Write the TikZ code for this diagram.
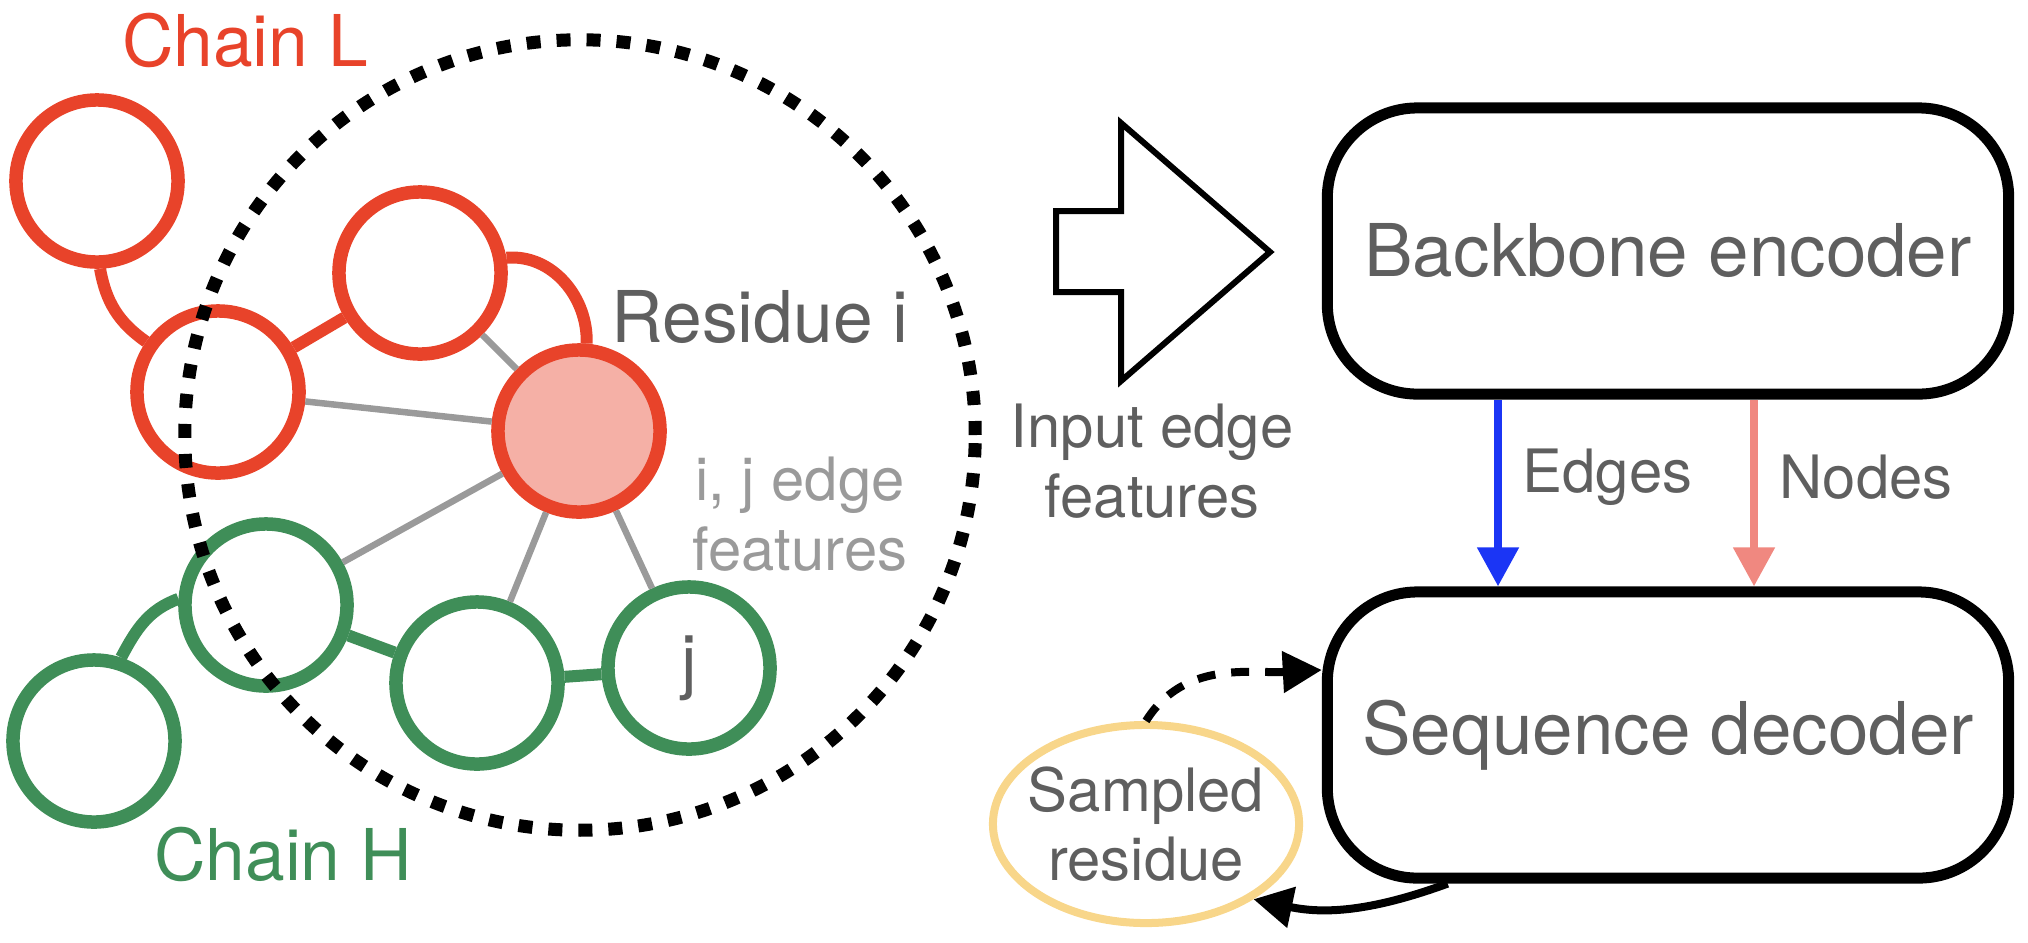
\documentclass[tikz,border=0pt]{standalone}
\usepackage{fontspec}
\setmainfont{TeX Gyre Heros}
\usetikzlibrary{shapes.geometric, arrows.meta}
\definecolor{chainl}{HTML}{E8432A}
\definecolor{chainh}{HTML}{3F8E58}
\definecolor{resfill}{HTML}{F5B0A6}
\definecolor{txtgrey}{HTML}{5F5F5F}
\definecolor{edgegrey}{HTML}{9A9A9A}
\definecolor{edgeblue}{HTML}{1B35F5}
\definecolor{nodesalmon}{HTML}{F08880}
\definecolor{sampleyellow}{HTML}{F8D68A}
\tikzstyle{lres} = [circle, draw=chainl, line width=0.135cm, minimum size=1.62cm, inner sep=0pt]
\tikzstyle{hres} = [circle, draw=chainh, line width=0.135cm, minimum size=1.62cm, inner sep=0pt, text=txtgrey, font=\fontsize{20}{24}\selectfont]
\tikzstyle{llink} = [draw=chainl, line width=0.12cm]
\tikzstyle{hlink} = [draw=chainh, line width=0.12cm]
\tikzstyle{glink} = [draw=edgegrey, line width=0.065cm]
\tikzstyle{module} = [rectangle, rounded corners=0.9cm, draw, line width=0.11cm, minimum width=6.81cm, minimum height=2.86cm, text=txtgrey, font=\fontsize{20.7}{25}\selectfont]
\tikzstyle{lbltext} = [text=txtgrey, align=center, font=\fontsize{17}{19.8}\selectfont]
\tikzstyle{flow} = [line width=0.08cm, -{Triangle[length=0.39cm, width=0.4cm]}]

\begin{document}
\begin{tikzpicture}[x=0.01cm, y=-0.01cm]
            \useasboundingbox (0,0) rectangle (2028,942);
            % chain L
            \node [lres] at (97,181) (l1) {};
            \node [lres] at (218,392) (l2) {};
            \node [lres] at (420,273) (l3) {};
            \node [lres, fill=resfill] at (579,431) (ri) {};
            % chain H
            \node [hres] at (94,741) (h2) {};
            \node [hres] at (266,605) (h1) {};
            \node [hres] at (477,683) (h3) {};
            \node [hres] at (689,668) (rj) {j};
            % neighbourhood
            \coordinate (nb) at (580,435);
            \draw [line width=0.13cm, dash pattern=on 0.14cm off 0.16cm] (nb) circle [radius=3.95cm];
            % edges
            \draw [glink] (l3) -- (ri);
            \draw [glink] (l2) -- (ri);
            \draw [glink] (h1) -- (ri);
            \draw [glink] (h3) -- (ri);
            \draw [glink] (rj) -- (ri);
            \draw [llink] (l1.-88) to[out=-80, in=145] (l2.145);
            \draw [llink] (l2) -- (l3);
            \draw [llink] (l3.10) to[out=5, in=88] (ri.85);
            \draw [hlink] (h2.72) to[out=62, in=200] (h1.176);
            \draw [hlink] (h1) -- (h3);
            \draw [hlink] (h3) -- (rj);
            % texts
            \node [text=chainl, font=\fontsize{20.3}{24}\selectfont] at (245,40) (chl) {Chain L};
            \node [text=chainh, font=\fontsize{20.3}{24}\selectfont] at (283,854) (chh) {Chain H};
            \node [text=txtgrey, font=\fontsize{20.3}{24}\selectfont] at (760,317) (rlab) {Residue i};
            \node [lbltext, text=edgegrey] at (800,514) (ijlab) {i, j edge\\features};
            % input arrow
            \draw [line width=0.06cm, fill=white] (1056,211) -- (1121,211) -- (1121,123) -- (1270,252)
                -- (1121,381) -- (1121,292) -- (1056,292) -- cycle;
            \node [lbltext] at (1152,461) (inlab) {Input edge\\features};
            % model
            \node [module] at (1668,251) (enc) {Backbone encoder};
            \node [module] at (1668,735) (dec) {Sequence decoder};
            \draw [flow, edgeblue] (1498,0 |- enc.south) -- (1498,0 |- dec.north);
            \draw [flow, nodesalmon] (1754,0 |- enc.south) -- (1754,0 |- dec.north);
            \node [lbltext, anchor=west, inner sep=0pt] at (1522,477) (elab) {Edges};
            \node [lbltext, anchor=west, inner sep=0pt] at (1779,477) (nlab) {Nodes};
            % sampling loop
            \node [ellipse, draw=sampleyellow, line width=0.08cm, minimum width=3.06cm, minimum height=1.98cm, inner xsep=-0.2cm, inner ysep=0pt, lbltext] at (1146,824) (samp) {Sampled\\residue};
            \draw [flow, dash pattern=on 0.18cm off 0.16cm] (samp.north) to[out=58, in=183] ([yshift=0.65cm]dec.west);
            \draw [flow] (dec.214) to[out=200, in=-12] (samp.-35);
\end{tikzpicture}
\end{document}
